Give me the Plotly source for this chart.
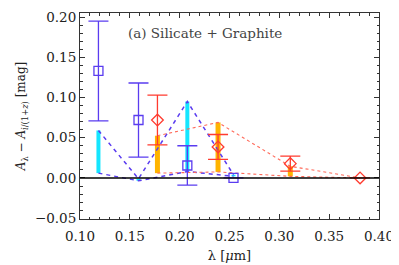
import plotly.graph_objects as go

# Blue (silicate) observed points
blue_x = [0.1185, 0.1587, 0.2077, 0.254]
blue_y = [0.133, 0.072, 0.0155, 0.0]
blue_err = [0.062, 0.046, 0.0245, 0.0]

# Red diamonds (graphite) observed points
red_x = [0.1777, 0.2385, 0.311, 0.381]
red_y = [0.072, 0.0385, 0.0178, 0.0]
red_err = [0.031, 0.0155, 0.0093, 0.0]

# Cyan model ranges at blue wavelengths
cyan_lo = [0.006, -0.0035, 0.008, 0.002]
cyan_hi = [0.059, -0.001, 0.095, 0.004]

# Orange model ranges at red wavelengths
orange_lo = [0.006, 0.0075, 0.002, 0.0]
orange_hi = [0.0525, 0.069, 0.0145, 0.0]

BLUE = "#5a3cf0"
RED = "#ff3b2f"
CYAN = "#14e6ff"
ORANGE = "#ffb400"
SALMON = "#ff6a5a"
FONT = "DejaVu Serif"


def vsegs(xs, lo, hi):
    X, Y = [], []
    for x, a, b in zip(xs, lo, hi):
        X += [x, x, None]
        Y += [a, b, None]
    return X, Y


fig = go.Figure()

cx, cy = vsegs(blue_x, cyan_lo, cyan_hi)
fig.add_trace(go.Scatter(x=cx, y=cy, mode="lines", line=dict(color=CYAN, width=4), hoverinfo="skip"))
ox, oy = vsegs(red_x, orange_lo, orange_hi)
fig.add_trace(go.Scatter(x=ox, y=oy, mode="lines", line=dict(color=ORANGE, width=5), hoverinfo="skip"))

# zero line
fig.add_hline(y=0, line=dict(color="black", width=1.5))

# model envelope lines
fig.add_trace(go.Scatter(x=blue_x, y=cyan_hi, mode="lines", line=dict(color=BLUE, width=1.5, dash="4px,4px")))
fig.add_trace(go.Scatter(x=blue_x, y=cyan_lo, mode="lines", line=dict(color=BLUE, width=1.5, dash="4px,4px")))
fig.add_trace(go.Scatter(x=red_x, y=orange_hi, mode="lines", line=dict(color=SALMON, width=1.1, dash="dot")))
fig.add_trace(go.Scatter(x=red_x, y=orange_lo, mode="lines", line=dict(color=SALMON, width=1.1, dash="dot")))

fig.add_trace(go.Scatter(
    x=blue_x, y=blue_y, mode="markers",
    marker=dict(symbol="square-open", size=9, color=BLUE, line=dict(width=1.3)),
    error_y=dict(type="data", array=blue_err, color=BLUE, thickness=1.3, width=10),
))
fig.add_trace(go.Scatter(
    x=red_x, y=red_y, mode="markers",
    marker=dict(symbol="diamond-open", size=9, color=RED, line=dict(width=1.3)),
    error_y=dict(type="data", array=red_err, color=RED, thickness=1.3, width=10),
))

fig.add_annotation(x=0.146, y=0.1805, xref="x", yref="y", text="(a) Silicate + Graphite",
                   showarrow=False, xanchor="left", yanchor="middle",
                   font=dict(family=FONT, size=13.5, color="#444444"))

axis_common = dict(
    showgrid=False, zeroline=False, mirror="allticks", ticks="inside",
    showline=True, linecolor="#333333", linewidth=1, tickcolor="#333333",
    ticklen=5, tickfont=dict(family=FONT, size=13.5, color="#222222"),
    automargin=False,
)
fig.update_xaxes(range=[0.10, 0.40], tickvals=[0.10, 0.15, 0.20, 0.25, 0.30, 0.35, 0.40],
                 ticktext=["0.10", "0.15", "0.20", "0.25", "0.30", "0.35", "0.40"],
                 minor=dict(dtick=0.01, ticks="inside", ticklen=2.5, tickcolor="#333333"),
                 ticklabelstandoff=5,
                 title=dict(text="λ [<i>μ</i>m]", font=dict(family=FONT, size=13, color="#222222"), standoff=7),
                 **axis_common)
fig.update_yaxes(range=[-0.051, 0.205], tickvals=[-0.05, 0.0, 0.05, 0.10, 0.15, 0.20],
                 ticktext=["−0.05", "0.00", "0.05", "0.10", "0.15", "0.20"],
                 minor=dict(dtick=0.01, ticks="inside", ticklen=2.5, tickcolor="#333333"),
                 title=dict(text="<i>A</i><sub>λ</sub> − <i>A</i><sub><i>i</i>/(1+<i>z</i>)</sub> [mag]",
                            font=dict(family=FONT, size=12, color="#222222"), standoff=6),
                 **axis_common)

# page body has an 8px default margin; compensate so the frame lands where the reference has it
fig.update_layout(
    width=391, height=257, showlegend=False,
    margin=dict(l=72, r=20, t=5, b=46),
    paper_bgcolor="white", plot_bgcolor="white",
)
fig.write_html("out.html")
